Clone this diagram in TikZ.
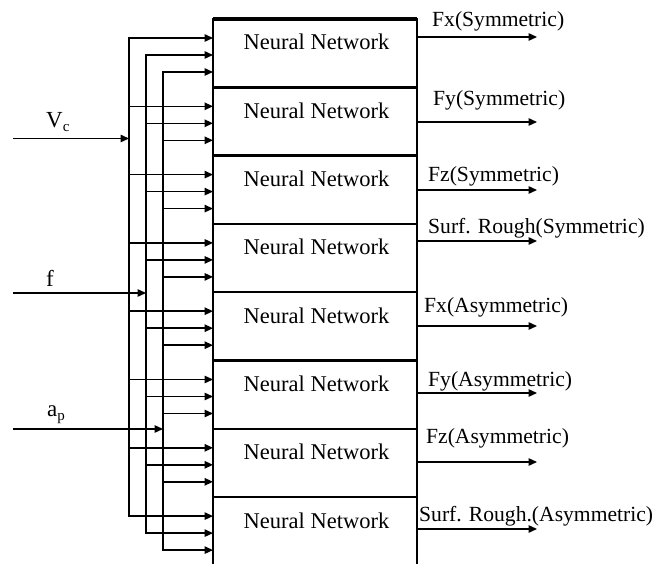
\documentclass[tikz,border=0pt]{standalone}
\usepackage{fontspec}
\setmainfont{Liberation Serif}
\usetikzlibrary{arrows.meta}
\begin{document}
\begin{tikzpicture}[x=1pt,y=-1pt,
  nnbox/.style={draw, line width=2.3pt, minimum width=204pt, minimum height=68.3pt, anchor=north west, inner sep=0pt, outer sep=0pt},
  nntext/.style={anchor=base, inner sep=0pt, font=\fontsize{22.5}{27}\selectfont},
  outlab/.style={anchor=base west, inner sep=0pt, font=\fontsize{21.6}{26}\selectfont},
  inlab/.style={anchor=base west, inner sep=0pt, font=\fontsize{23}{26}\selectfont},
  wire/.style={line width=1.4pt},
  arr/.style={wire, -{Triangle[length=8.5pt,width=7.5pt]}}]
\useasboundingbox (0,0) rectangle (662,564);
\clip (0,0) rectangle (662,564);
% boxes
\foreach \i/\t in {1/19,2/87.3,3/155.6,4/223.9,5/292.2,6/360.5,7/428.8,8/497.1}{
  \node[nnbox] (nn\i) at (213,\t) {};
  \node[nntext] (nt\i) at ([xshift=1.5pt,yshift=-31pt]nn\i.north) {Neural Network};
  \coordinate (ia\i) at ([yshift=-19pt]nn\i.north west);
  \coordinate (ib\i) at ([yshift=-36pt]nn\i.north west);
  \coordinate (ic\i) at ([yshift=-53pt]nn\i.north west);
}
\draw[line width=3.2pt] (nn1.south west) -- (nn1.south east);
\draw[line width=3.2pt] (nn1.north west) -- (nn1.north east);
% buses
\coordinate (b1) at (129,0);
\coordinate (b2) at (146,0);
\coordinate (b3) at (163,0);
\draw[arr] (ia4 -| b1) |- (ia1);
\draw[arr] (ia4 -| b1) |- (ia8);
\draw[arr] (ib4 -| b2) |- (ib1);
\draw[arr] (ib4 -| b2) |- (ib8);
\draw[arr] (ic4 -| b3) |- (ic1);
\draw[arr] (ic4 -| b3) |- (ic8);
\foreach \i in {2,...,7}{
  \draw[arr] (ia\i -| b1) -- (ia\i);
  \draw[arr] (ib\i -| b2) -- (ib\i);
  \draw[arr] (ic\i -| b3) -- (ic\i);
}
% inputs
\coordinate (vc) at (13,138.5);
\coordinate (fi) at (13,293);
\coordinate (ap) at (13,429);
\draw[arr] (vc) -- (vc -| b1);
\draw[arr] (fi) -- (fi -| b2);
\draw[arr] (ap) -- (ap -| b3);
\node[inlab] (lvc) at (46,128) {V\raisebox{-4pt}{\fontsize{15}{15}\selectfont c}};
\node[inlab] (lf) at (46,287) {f};
\node[inlab] (lap) at (47,417) {a\raisebox{-4pt}{\fontsize{15}{15}\selectfont p}};
% outputs
\foreach \j/\y in {1/37,2/122,3/190,4/241,5/326,6/393,7/462,8/529}{
  \coordinate (o\j) at (537,\y);
  \draw[arr] (nn1.east |- o\j) -- (o\j);
}
\node[outlab] (l1) at (432,27) {Fx(Symmetric)};
\node[outlab] (l2) at (433,106) {Fy(Symmetric)};
\node[outlab] (l3) at (428,182) {Fz(Symmetric)};
\node[outlab] (l4) at (428,234) {Surf. Rough(Symmetric)};
\node[outlab] (l5) at (424,313) {Fx(Asymmetric)};
\node[outlab] (l6) at (428,386) {Fy(Asymmetric)};
\node[outlab] (l7) at (426,443) {Fz(Asymmetric)};
\node[outlab] (l8) at (419,521) {Surf. Rough.(Asymmetric)};
\end{tikzpicture}
\end{document}
